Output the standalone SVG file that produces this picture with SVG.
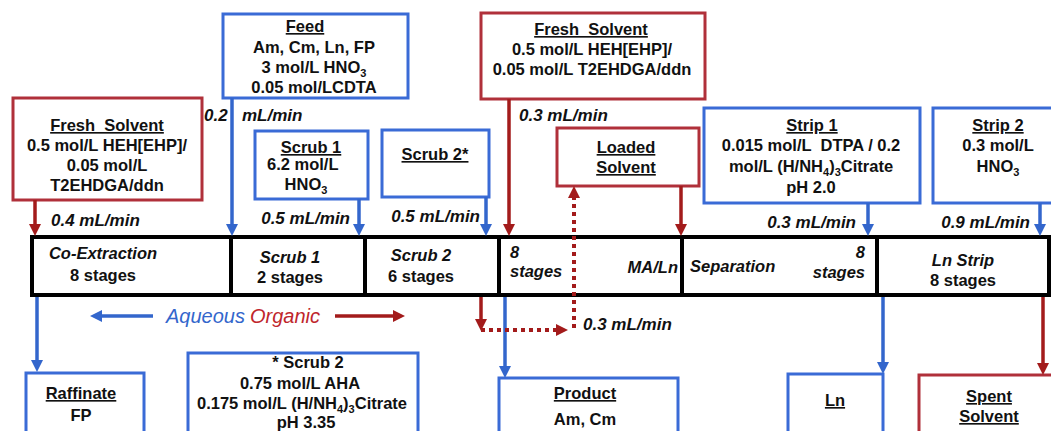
<svg xmlns="http://www.w3.org/2000/svg" width="1051" height="431" viewBox="0 0 1051 431">
<defs>
<style>
text{font-family:"Liberation Sans",Arial,sans-serif;font-weight:bold;font-size:16.5px;fill:#111;}
.c{text-anchor:middle}
.r{text-anchor:end}
.u{text-decoration:underline}
.i{font-style:italic}
.f{font-size:17px;font-style:italic}
.bb{fill:#fff;stroke:#3A6BD6;stroke-width:3}
.rb{fill:#fff;stroke:#B0303A;stroke-width:3}
.ba{stroke:#3366CC;stroke-width:3.5;fill:none;marker-end:url(#ab)}
.ra{stroke:#A31B1B;stroke-width:3.5;fill:none;marker-end:url(#ar)}
.rd{stroke:#A31B1B;stroke-width:4;fill:none;stroke-dasharray:4 4;marker-end:url(#ar)}
.leg{font-weight:normal;font-style:italic;font-size:20px}
.bar{fill:#fff;stroke:#000;stroke-width:4}
.div{stroke:#000;stroke-width:4}
</style>
<marker id="ab" viewBox="0 0 12 12" refX="4" refY="6" markerWidth="12" markerHeight="12" markerUnits="userSpaceOnUse" orient="auto"><path d="M0,0L12,6L0,12z" fill="#3366CC"/></marker>
<marker id="ar" viewBox="0 0 12 12" refX="4" refY="6" markerWidth="12" markerHeight="12" markerUnits="userSpaceOnUse" orient="auto"><path d="M0,0L12,6L0,12z" fill="#A31B1B"/></marker>
</defs>
<rect width="1051" height="431" fill="#fff"/>

<g id="fresh-solvent-1">
<rect class="rb" x="13" y="98" width="189" height="102"/>
<text class="c u" x="107" y="131" xml:space="preserve">Fresh  Solvent</text>
<text class="c" x="107" y="151">0.5 mol/L HEH[EHP]/</text>
<text class="c" x="107" y="171">0.05 mol/L</text>
<text class="c" x="107" y="191">T2EHDGA/ddn</text>
</g>

<g id="feed">
<rect class="bb" x="223" y="14" width="185" height="84"/>
<text class="c u" x="305" y="32">Feed</text>
<text class="c" x="314" y="53">Am, Cm, Ln, FP</text>
<text class="c" x="314" y="73">3 mol/L HNO<tspan font-size="11" dy="4">3</tspan></text>
<text class="c" x="314" y="93">0.05 mol/LCDTA</text>
</g>

<g id="scrub1">
<rect class="bb" x="255" y="131" width="113" height="68"/>
<text class="c u" x="311" y="153">Scrub 1</text>
<text x="267" y="170">6.2 mol/L</text>
<text class="c" x="306" y="190">HNO<tspan font-size="11" dy="4">3</tspan></text>
</g>

<g id="scrub2">
<rect class="bb" x="382" y="130" width="107" height="67"/>
<text class="c u" x="435" y="160">Scrub 2*</text>
</g>

<g id="fresh-solvent-2">
<rect class="rb" x="481" y="13" width="224" height="86"/>
<text class="c u" x="591" y="35" xml:space="preserve">Fresh  Solvent</text>
<text class="c" x="592" y="55">0.5 mol/L HEH[EHP]/</text>
<text class="c" x="592" y="75">0.05 mol/L T2EHDGA/ddn</text>
</g>

<g id="loaded-solvent">
<rect class="rb" x="557" y="128" width="142" height="58"/>
<text class="c u" x="626" y="153">Loaded</text>
<text class="c u" x="626" y="173">Solvent</text>
</g>

<g id="strip1">
<rect class="bb" x="704" y="108" width="216" height="95"/>
<text class="c u" x="812" y="131">Strip 1</text>
<text class="c" x="811" y="151" xml:space="preserve">0.015 mol/L  DTPA / 0.2</text>
<text class="c" x="811" y="172">mol/L (H/NH<tspan font-size="11" dy="4">4</tspan><tspan dy="-4">)</tspan><tspan font-size="11" dy="4">3</tspan><tspan dy="-4">Citrate</tspan></text>
<text class="c" x="811" y="193">pH 2.0</text>
</g>

<g id="strip2">
<rect class="bb" x="933" y="108" width="130" height="95"/>
<text class="c u" x="998" y="131">Strip 2</text>
<text class="c" x="998" y="151">0.3 mol/L</text>
<text class="c" x="998" y="172">HNO<tspan font-size="11" dy="4">3</tspan></text>
</g>

<g id="contactor-bar">
<rect class="bar" x="32" y="237" width="1017" height="58"/>
<line class="div" x1="231" y1="237" x2="231" y2="295"/>
<line class="div" x1="365" y1="237" x2="365" y2="295"/>
<line class="div" x1="499" y1="237" x2="499" y2="295"/>
<line class="div" x1="682" y1="237" x2="682" y2="295"/>
<line class="div" x1="877" y1="237" x2="877" y2="295"/>
</g>

<g id="co-extraction">
<text class="c i" x="103" y="259">Co-Extraction</text>
<text class="c" x="103" y="281">8 stages</text>
</g>
<g id="scrub1-stage">
<text class="c i" x="290" y="263">Scrub 1</text>
<text class="c" x="290" y="283">2 stages</text>
</g>
<g id="scrub2-stage">
<text class="c i" x="421" y="261">Scrub 2</text>
<text class="c" x="421" y="282">6 stages</text>
</g>
<g id="ma-ln-stage">
<text class="i" x="510" y="258">8</text>
<text class="i" x="510" y="277">stages</text>
<text class="r i" x="678" y="273">MA/Ln</text>
</g>
<g id="separation-stage">
<text class="i" x="690" y="272">Separation</text>
<text class="r i" x="865" y="258">8</text>
<text class="r i" x="865" y="278">stages</text>
</g>
<g id="ln-strip-stage">
<text class="c i" x="963" y="266">Ln Strip</text>
<text class="c" x="963" y="286">8 stages</text>
</g>

<g id="raffinate">
<rect class="bb" x="26" y="373" width="118" height="75"/>
<text class="c u" x="81" y="399">Raffinate</text>
<text class="c" x="81" y="421">FP</text>
</g>

<g id="scrub2-note">
<rect class="bb" x="188" y="353" width="230" height="95"/>
<text class="c" x="308" y="368">* Scrub 2</text>
<text class="c" x="300" y="389">0.75 mol/L AHA</text>
<text class="c" x="302" y="409">0.175 mol/L (H/NH<tspan font-size="11" dy="4">4</tspan><tspan dy="-4">)</tspan><tspan font-size="11" dy="4">3</tspan><tspan dy="-4">Citrate</tspan></text>
<text class="c" x="306" y="428">pH 3.35</text>
</g>

<g id="product">
<rect class="bb" x="499" y="378" width="179" height="70"/>
<text class="c u" x="585" y="399">Product</text>
<text class="c" x="585" y="425">Am, Cm</text>
</g>

<g id="ln">
<rect class="bb" x="788" y="374" width="95" height="74"/>
<text class="c u" x="835" y="406">Ln</text>
</g>

<g id="spent-solvent">
<rect class="rb" x="919" y="375" width="145" height="73"/>
<text class="c u" x="989" y="402">Spent</text>
<text class="c u" x="989" y="422">Solvent</text>
</g>

<g id="connectors">
<line class="ra" x1="35" y1="200" x2="35" y2="228"/>
<line class="ba" x1="232" y1="98" x2="232" y2="228"/>
<line class="ba" x1="359" y1="199" x2="359" y2="228"/>
<line class="ba" x1="486" y1="197" x2="486" y2="228"/>
<line class="ra" x1="509" y1="99" x2="509" y2="228"/>
<line class="ra" x1="681" y1="186" x2="681" y2="228"/>
<line class="ba" x1="868" y1="203" x2="868" y2="228"/>
<line class="ba" x1="1040" y1="203" x2="1040" y2="228"/>
<line class="ba" x1="37" y1="297" x2="37" y2="364"/>
<line class="ba" x1="505" y1="297" x2="505" y2="370"/>
<line class="ba" x1="883" y1="297" x2="883" y2="366"/>
<line class="ra" x1="1043" y1="297" x2="1043" y2="367"/>
<line class="ra" x1="481" y1="297" x2="481" y2="323"/>
<line class="rd" x1="481" y1="330" x2="560" y2="330"/>
<line class="rd" x1="574" y1="328" x2="574" y2="194"/>
<line class="ba" x1="153" y1="316" x2="98" y2="316"/>
<line class="ra" x1="335" y1="316" x2="397" y2="316"/>
</g>

<g id="flow-labels">
<text class="f" x="51" y="226">0.4 mL/min</text>
<text class="f" x="204" y="121">0.2</text>
<text class="f" x="242" y="121">mL/min</text>
<text class="f r" x="350" y="224">0.5 mL/min</text>
<text class="f r" x="480" y="222">0.5 mL/min</text>
<text class="f" x="519" y="121">0.3 mL/min</text>
<text class="f r" x="856" y="228">0.3 mL/min</text>
<text class="f r" x="1030" y="228">0.9 mL/min</text>
<text class="f" x="583" y="330">0.3 mL/min</text>
</g>

<g id="legend">
<text class="leg" x="166" y="323" style="fill:#3366CC">Aqueous</text>
<text class="leg" x="250" y="323" style="fill:#C0262C">Organic</text>
</g>
</svg>
